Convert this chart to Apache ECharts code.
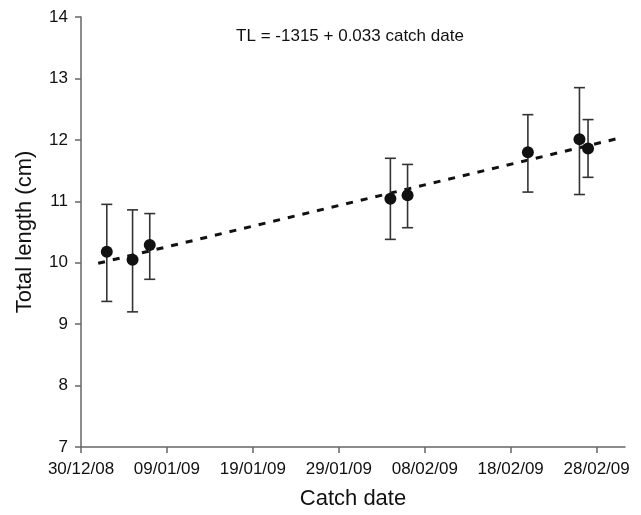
<!DOCTYPE html>
<html lang="en">

<head>
    <meta charset="UTF-8">
    <title>Total length vs catch date</title>
    <script src="https://cdn.jsdelivr.net/npm/echarts@6/dist/echarts.min.js"></script>
    <style>
        html, body { margin: 0; padding: 0; background: #fff; }
    </style>
</head>

<body>
    <div id="main" style="width: 641px; height: 515px;"></div>
    <script type="text/javascript">
        // catch dates (dd/mm/yy) and total length mean +/- error
        var catchDates = ['02/01/09', '05/01/09', '07/01/09', '04/02/09', '06/02/09', '20/02/09', '26/02/09', '27/02/09'];
        var meanLength = [10.18, 10.05, 10.29, 11.04, 11.10, 11.80, 12.01, 11.86];
        var lowerLength = [9.37, 9.20, 9.73, 10.38, 10.57, 11.15, 11.11, 11.39];
        var upperLength = [10.95, 10.86, 10.80, 11.70, 11.60, 12.41, 12.85, 12.33];

        // regression line end points
        var trendDates = ['01/01/09', '03/03/09'];
        var trendLength = [9.99, 12.04];

        var xTickLabels = ['30/12/08', '09/01/09', '19/01/09', '29/01/09', '08/02/09', '18/02/09', '28/02/09'];
        var yTicks = [7, 8, 9, 10, 11, 12, 13, 14];

        var DAY = 86400000;
        var base = Date.UTC(2008, 11, 30);

        function toDay(s) {
            var p = s.split('/');
            return (Date.UTC(2000 + (+p[2]), +p[1] - 1, +p[0]) - base) / DAY;
        }
        function fmt(v) {
            var d = new Date(base + Math.round(v) * DAY);
            var dd = ('0' + d.getUTCDate()).slice(-2);
            var mm = ('0' + (d.getUTCMonth() + 1)).slice(-2);
            var yy = ('0' + (d.getUTCFullYear() % 100)).slice(-2);
            return dd + '/' + mm + '/' + yy;
        }

        var xTicks = xTickLabels.map(toDay);
        var points = catchDates.map(function (d, i) { return [toDay(d), meanLength[i]]; });
        var bars = catchDates.map(function (d, i) { return [toDay(d), lowerLength[i], upperLength[i]]; });
        var trend = trendDates.map(function (d, i) { return [toDay(d), trendLength[i]]; });

        var font = 'Liberation Sans, Arial, Helvetica, sans-serif';
        var axisGray = '#666';

        var myChart = echarts.init(document.getElementById('main'));
        var option = {
            animation: false,
            grid: { left: 81, right: 16, top: 17, bottom: 63 },
            graphic: [{
                type: 'text',
                x: 350,
                y: 36,
                style: {
                    text: 'TL = -1315 + 0.033 catch date',
                    font: '17px ' + font,
                    fill: '#111',
                    textAlign: 'center',
                    textVerticalAlign: 'middle'
                }
            }],
            xAxis: {
                type: 'value',
                min: 0,
                max: 63.3,
                name: 'Catch date',
                nameLocation: 'middle',
                nameGap: 41,
                nameTextStyle: { fontFamily: font, fontSize: 22, color: '#111' },
                splitLine: { show: false },
                axisLine: { lineStyle: { color: axisGray, width: 1.5 } },
                axisTick: { customValues: xTicks, length: 6, lineStyle: { color: axisGray, width: 1.5 } },
                axisLabel: {
                    customValues: xTicks,
                    formatter: fmt,
                    margin: 14,
                    fontFamily: font,
                    fontSize: 17,
                    color: '#111'
                }
            },
            yAxis: {
                type: 'value',
                min: 7,
                max: 14,
                interval: 1,
                name: 'Total length (cm)',
                nameLocation: 'middle',
                nameGap: 45,
                nameTextStyle: { fontFamily: font, fontSize: 22, color: '#111' },
                splitLine: { show: false },
                axisLine: { show: true, lineStyle: { color: axisGray, width: 1.5 } },
                axisTick: { show: true, customValues: yTicks, length: 6, lineStyle: { color: axisGray, width: 1.5 } },
                axisLabel: {
                    customValues: yTicks,
                    margin: 13,
                    fontFamily: font,
                    fontSize: 17,
                    color: '#111'
                }
            },
            series: [
                {
                    name: 'trend',
                    type: 'line',
                    data: trend,
                    symbol: 'none',
                    z: 1,
                    lineStyle: { color: '#111', width: 3, type: [7, 8] }
                },
                {
                    name: 'error',
                    type: 'custom',
                    z: 2,
                    data: bars,
                    renderItem: function (params, api) {
                        var x = api.value(0);
                        var lo = api.coord([x, api.value(1)]);
                        var hi = api.coord([x, api.value(2)]);
                        var half = 5.5;
                        var st = { stroke: '#333', lineWidth: 1.6 };
                        return {
                            type: 'group',
                            children: [
                                { type: 'line', shape: { x1: lo[0], y1: lo[1], x2: hi[0], y2: hi[1] }, style: st },
                                { type: 'line', shape: { x1: lo[0] - half, y1: lo[1], x2: lo[0] + half, y2: lo[1] }, style: st },
                                { type: 'line', shape: { x1: hi[0] - half, y1: hi[1], x2: hi[0] + half, y2: hi[1] }, style: st }
                            ]
                        };
                    }
                },
                {
                    name: 'mean',
                    type: 'scatter',
                    z: 3,
                    data: points,
                    symbol: 'circle',
                    symbolSize: 12,
                    itemStyle: { color: '#111', opacity: 1 }
                }
            ]
        };
        myChart.setOption(option);
    </script>
</body>

</html>
